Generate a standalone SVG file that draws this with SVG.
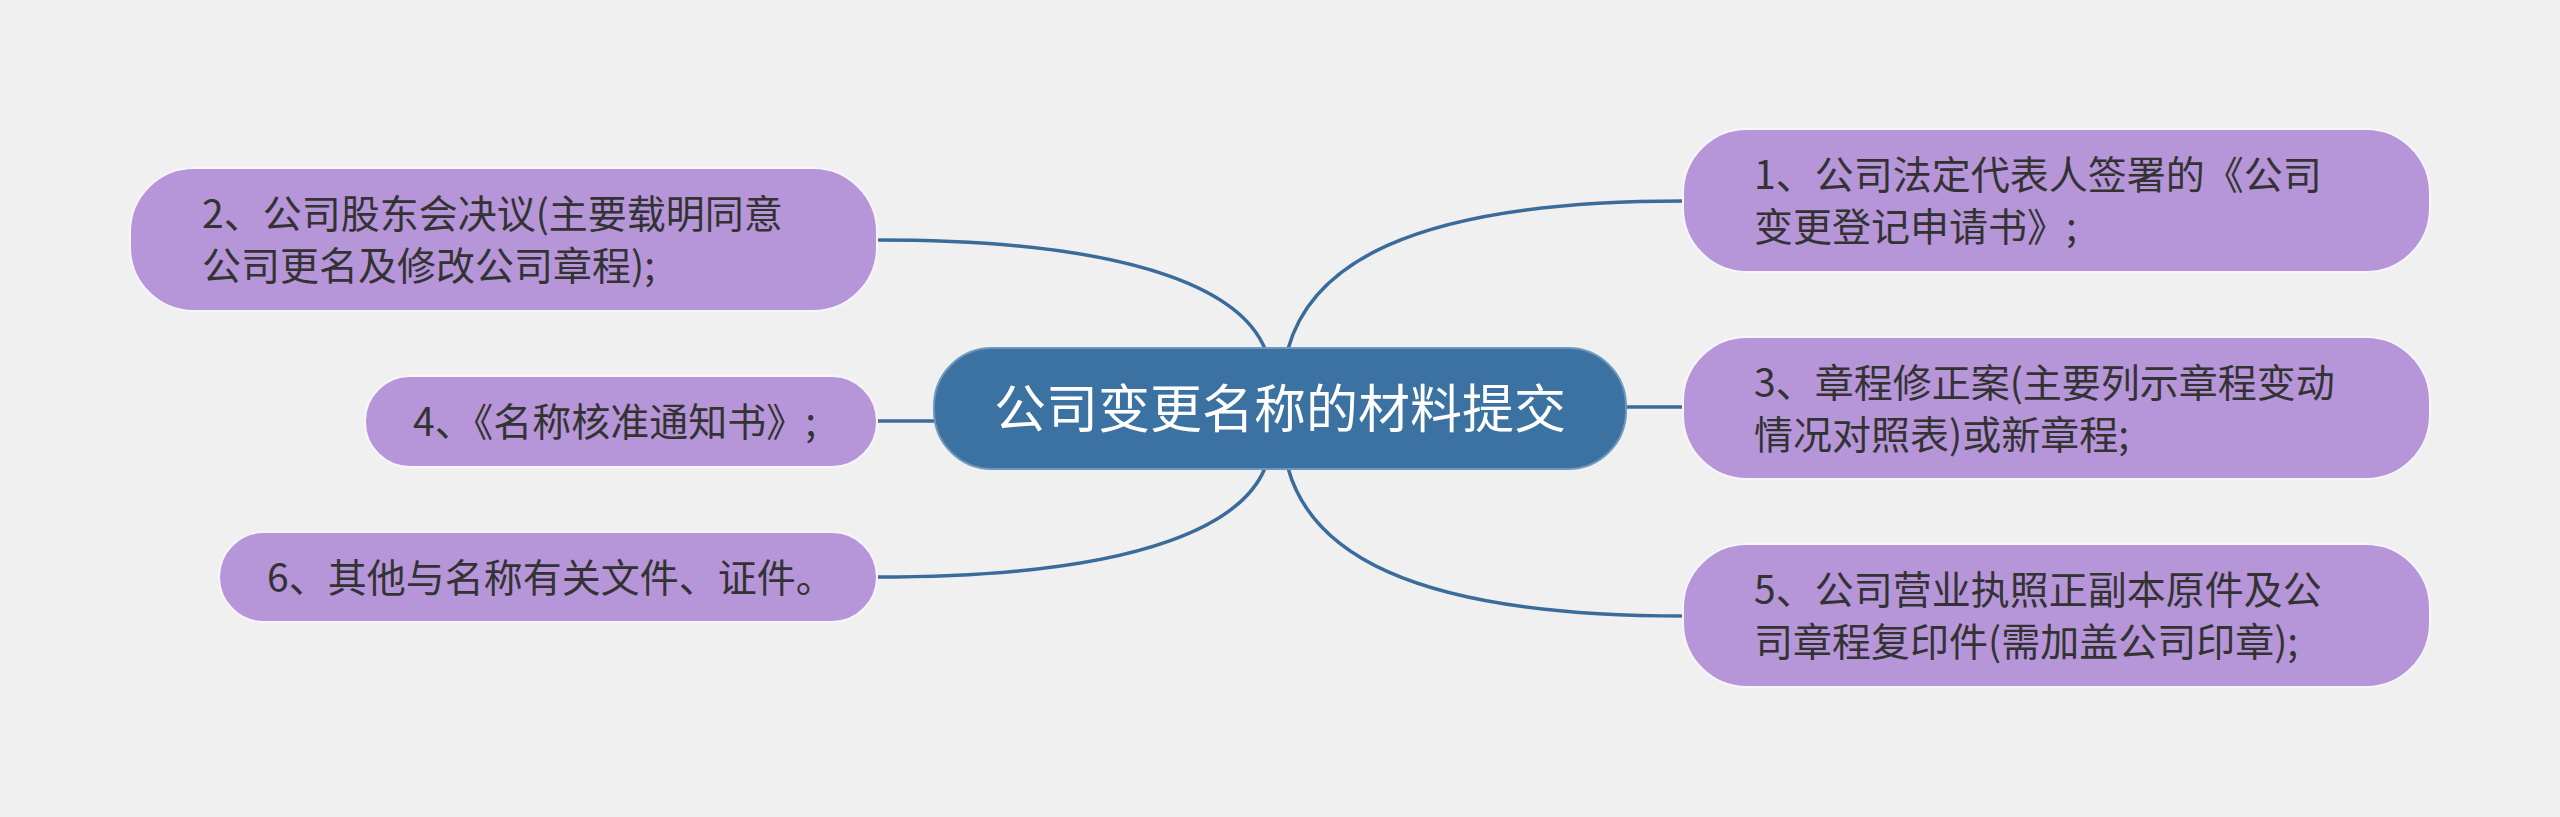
<svg xmlns="http://www.w3.org/2000/svg" width="2560" height="817" viewBox="0 0 2560 817">
<style>
.bg{fill:#f0f0f0}
.leaf{fill:#b696d8;stroke:#f7f4fb;stroke-width:2}
.root{fill:#3c72a2;stroke:#6f97bd;stroke-width:2}
.t{font-family:"Noto Sans CJK SC","Noto Sans",sans-serif;font-size:39px;fill:#333333}
.rt{font-family:"Noto Sans CJK SC","Noto Sans",sans-serif;font-size:52px;fill:#ffffff;text-anchor:middle}
.c{fill:none;stroke:#3a6c9b;stroke-width:3.5;stroke-linecap:round}
</style>
<rect class="bg" x="0" y="0" width="2560" height="817"/>
<g id="connectors">
<path class="c" d="M1288,349 C1310,270 1400,201 1683,201"/>
<path class="c" d="M1626,407 L1683,407"/>
<path class="c" d="M1288,468 C1310,547 1400,616 1683,616"/>
<path class="c" d="M1265,349 C1245,300 1160,240 877,240"/>
<path class="c" d="M934,421 L877,421"/>
<path class="c" d="M1265,468 C1245,517 1160,577 877,577"/>
</g>
<g id="root">
<rect class="root" x="934" y="348" width="692" height="121" rx="58"/>
<text class="rt" x="1280" y="428">公司变更名称的材料提交</text>
</g>
<g id="node1">
<rect class="leaf" x="1683" y="129" width="747" height="143" rx="64"/>
<text class="t" x="1754" y="189">1、公司法定代表人签署的《公司</text>
<text class="t" x="1754" y="241">变更登记申请书》;</text>
</g>
<g id="node3">
<rect class="leaf" x="1683" y="337" width="747" height="142" rx="64"/>
<text class="t" x="1754" y="397">3、章程修正案(主要列示章程变动</text>
<text class="t" x="1754" y="449">情况对照表)或新章程;</text>
</g>
<g id="node5">
<rect class="leaf" x="1683" y="544" width="747" height="143" rx="64"/>
<text class="t" x="1754" y="604">5、公司营业执照正副本原件及公</text>
<text class="t" x="1754" y="656">司章程复印件(需加盖公司印章);</text>
</g>
<g id="node2">
<rect class="leaf" x="130" y="168" width="747" height="143" rx="64"/>
<text class="t" x="202" y="228">2、公司股东会决议(主要载明同意</text>
<text class="t" x="202" y="280">公司更名及修改公司章程);</text>
</g>
<g id="node4">
<rect class="leaf" x="365" y="376" width="512" height="91" rx="45"/>
<text class="t" x="413" y="436">4、《名称核准通知书》;</text>
</g>
<g id="node6">
<rect class="leaf" x="219" y="532" width="658" height="90" rx="45"/>
<text class="t" x="267" y="592">6、其他与名称有关文件、证件。</text>
</g>
</svg>
